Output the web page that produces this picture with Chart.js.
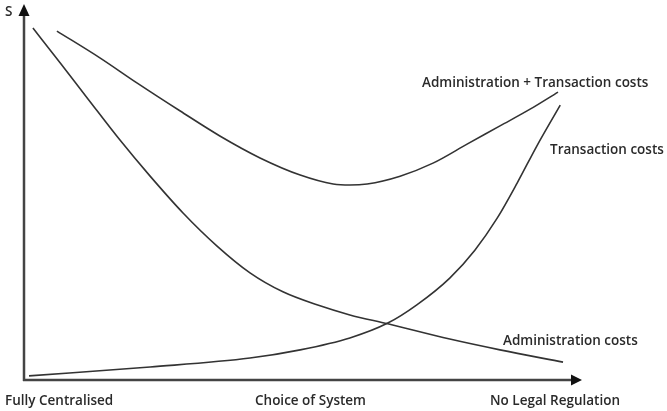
<!DOCTYPE html>
<html>
<head>
<meta charset="utf-8">
<script src="https://cdn.jsdelivr.net/npm/chart.js@4"></script>
<style>
html,body{margin:0;padding:0;background:#fff;}
#wrap{position:relative;width:667px;height:411px;}
</style>
</head>
<body>
<div id="wrap"><canvas id="c" width="667" height="411"></canvas></div>
<script>
// Choice of system (0 = fully centralised, 100 = no legal regulation) vs cost S (0-100)
const adminX = [1.6, 6.5, 11.5, 17.2, 22.6, 28.5, 34.6, 40.5, 46.4, 52.5, 58.4, 65.2, 76.3, 85.3, 96.6];
const adminY = [94.6, 85.2, 75.5, 64.5, 54.8, 44.9, 36.0, 28.8, 23.7, 20.2, 17.5, 15.1, 11.0, 8.1, 4.8];

const transX = [0.9, 22.6, 40.5, 49.5, 58.4, 65.2, 70.4, 76.3, 80.8, 84.8, 88.4, 91.9, 96.1];
const transY = [1.1, 3.5, 5.9, 8.1, 11.3, 15.3, 20.2, 27.4, 34.9, 43.5, 53.0, 62.9, 73.9];

const sumX = [5.9, 13.6, 20.3, 28.0, 35.1, 42.3, 49.5, 55.4, 58.4, 61.5, 67.4, 73.3, 79.4, 85.3, 90.7, 95.7];
const sumY = [93.8, 86.6, 79.8, 72.3, 65.6, 59.7, 55.1, 52.7, 52.4, 52.7, 54.8, 58.3, 63.4, 68.3, 72.8, 77.4];

const curveLabels = ["Administration costs", "Transaction costs", "Administration + Transaction costs"];
const xAxisLabels = ["Fully Centralised", "Choice of System", "No Legal Regulation"];
const yAxisLabel = "S";

const toPts = (xs, ys) => xs.map((x, i) => ({x: x, y: ys[i]}));

const lineStyle = {
  borderColor: '#333',
  borderWidth: 1.6,
  pointRadius: 0,
  showLine: true,
  fill: false,
  cubicInterpolationMode: 'monotone'
};

const FONT = '600 13.5px "Open Sans", "Noto Sans", sans-serif';

const decor = {
  id: 'decor',
  afterDraw(chart) {
    const ctx = chart.ctx;
    const a = chart.chartArea;
    ctx.save();
    // axes
    ctx.strokeStyle = '#444';
    ctx.fillStyle = '#111';
    ctx.lineWidth = 2.5;
    ctx.beginPath();
    ctx.moveTo(a.left, a.bottom + 1);
    ctx.lineTo(a.left, a.top + 8);
    ctx.moveTo(a.left - 1, a.bottom);
    ctx.lineTo(a.right - 8, a.bottom);
    ctx.stroke();
    // arrowheads
    ctx.beginPath();
    ctx.moveTo(a.left, a.top - 4);
    ctx.lineTo(a.left - 5.5, a.top + 8);
    ctx.lineTo(a.left + 5.5, a.top + 8);
    ctx.closePath();
    ctx.fill();
    ctx.beginPath();
    ctx.moveTo(a.right, a.bottom);
    ctx.lineTo(a.right - 11, a.bottom - 5.5);
    ctx.lineTo(a.right - 11, a.bottom + 5.5);
    ctx.closePath();
    ctx.fill();
    // texts
    ctx.fillStyle = '#2a2a2a';
    ctx.font = FONT;
    ctx.textBaseline = 'middle';
    ctx.textAlign = 'left';
    ctx.fillText(yAxisLabel, 5, 12);
    ctx.fillText(xAxisLabels[0], 5, 401);
    ctx.fillText(xAxisLabels[1], 255, 401);
    ctx.fillText(xAxisLabels[2], 490, 401);
    ctx.fillText(curveLabels[2], 422, 83);
    ctx.fillText(curveLabels[1], 550, 150);
    ctx.fillText(curveLabels[0], 503, 341);
    ctx.restore();
  }
};

new Chart(document.getElementById('c'), {
  type: 'scatter',
  data: {
    datasets: [
      Object.assign({label: curveLabels[0], data: toPts(adminX, adminY)}, lineStyle),
      Object.assign({label: curveLabels[1], data: toPts(transX, transY)}, lineStyle),
      Object.assign({label: curveLabels[2], data: toPts(sumX, sumY)}, lineStyle)
    ]
  },
  options: {
    responsive: false,
    animation: false,
    layout: {padding: {left: 24, right: 85, top: 8, bottom: 31}},
    plugins: {legend: {display: false}, tooltip: {enabled: false}},
    scales: {
      x: {type: 'linear', min: 0, max: 100, display: false},
      y: {type: 'linear', min: 0, max: 100, display: false}
    }
  },
  plugins: [decor]
});
</script>
</body>
</html>
